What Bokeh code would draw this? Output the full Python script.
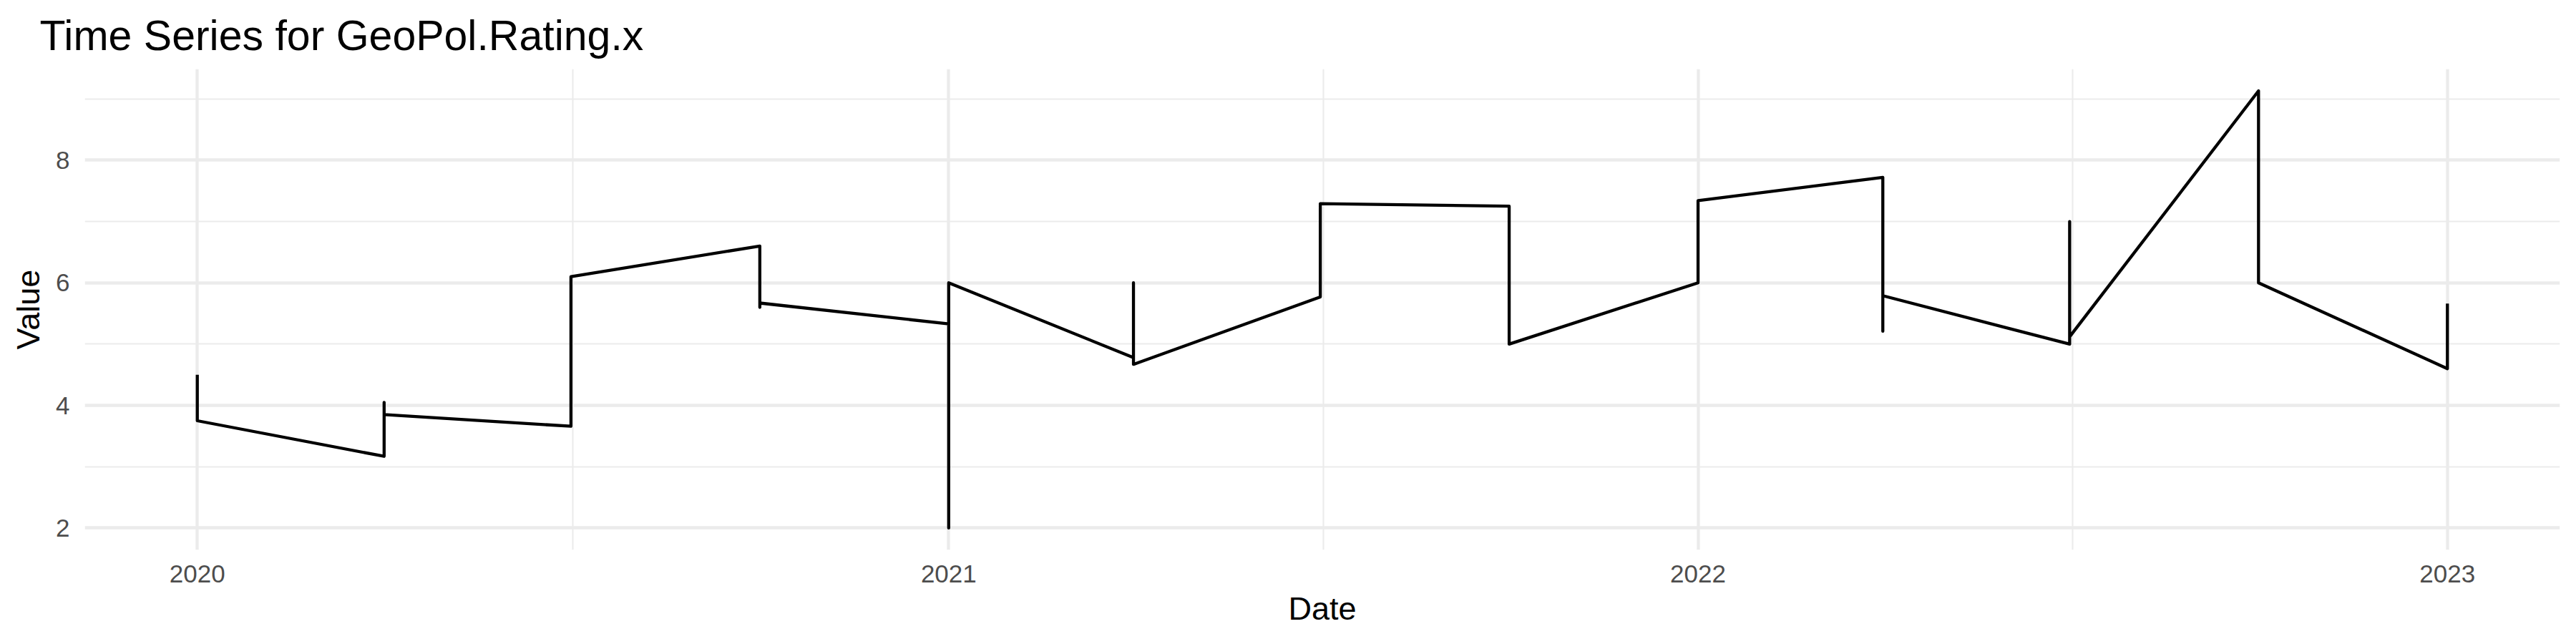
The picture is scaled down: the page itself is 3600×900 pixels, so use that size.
import numpy as np
import pandas as pd
from bokeh.plotting import figure
from bokeh.models import ColumnDataSource, FixedTicker, DatetimeTickFormatter, Range1d
from bokeh.embed import file_html
from bokeh.resources import INLINE

# ---- data ----
dates = ["2020-01-01", "2020-01-01",
         "2020-04-01", "2020-04-01", "2020-04-01",
         "2020-07-01", "2020-07-01",
         "2020-10-01", "2020-10-01", "2020-10-01",
         "2021-01-01", "2021-01-01", "2021-01-01",
         "2021-04-01", "2021-04-01", "2021-04-01",
         "2021-07-01", "2021-07-01",
         "2021-10-01", "2021-10-01",
         "2022-01-01", "2022-01-01",
         "2022-04-01", "2022-04-01", "2022-04-01",
         "2022-07-01", "2022-07-01", "2022-07-01",
         "2022-10-01", "2022-10-01",
         "2023-01-01", "2023-01-01"]
values = [4.5, 3.75,
          3.17, 4.05, 3.85,
          3.66, 6.1,
          6.6, 5.6, 5.67,
          5.33, 2.0, 6.0,
          4.78, 6.0, 4.67,
          5.77, 7.29,
          7.25, 5.0,
          6.0, 7.34,
          7.72, 5.21, 5.79,
          5.0, 7.0, 5.12,
          9.13, 6.0,
          4.6, 5.66]
x_tick_dates = ["2020-01-01", "2021-01-01", "2022-01-01", "2023-01-01"]
y_ticks = [2, 4, 6, 8]
y_minor_ticks = [3, 5, 7, 9]

title_text = "Time Series for GeoPol.Rating.x"
x_label = "Date"
y_label = "Value"

# ---- build ----
dt = pd.to_datetime(dates)
src = ColumnDataSource(dict(date=dt, value=values))

def ms(ts):
    return pd.Timestamp(ts).value / 1e6

xmin, xmax = ms(dt.min()), ms(dt.max())
xpad = 0.05 * (xmax - xmin)
ymin, ymax = min(values), max(values)
ypad = 0.05 * (ymax - ymin)

major_x = [ms(d) for d in x_tick_dates]
minor_x = [(a + b) / 2 for a, b in zip(major_x[:-1], major_x[1:])]

FONT = "Liberation Sans"
GRID = "#EBEBEB"

p = figure(width=3584, height=892, x_axis_type="datetime",
           output_backend="svg", toolbar_location=None,
           x_range=Range1d(xmin - xpad, xmax + xpad),
           y_range=Range1d(ymin - ypad, ymax + ypad),
           min_border_left=118, min_border_right=7,
           min_border_top=95, min_border_bottom=124)

p.line("date", "value", source=src, line_color="black", line_width=4.3,
       line_join="round")

p.title.text = title_text
p.title.align = "left"
p.title.text_font = FONT
p.title.text_font_size = "59px"
p.title.text_font_style = "normal"
p.title.text_color = "black"
p.title.standoff = 28
p.title.offset = -63

p.outline_line_color = None
p.background_fill_color = "white"
p.border_fill_color = "white"

p.xaxis.ticker = FixedTicker(ticks=major_x, minor_ticks=minor_x)
p.xaxis.formatter = DatetimeTickFormatter(years="%Y", months="%Y", days="%Y",
                                          hours="%Y", hourmin="%Y", minutes="%Y",
                                          minsec="%Y", seconds="%Y", milliseconds="%Y")
p.yaxis.ticker = FixedTicker(ticks=y_ticks, minor_ticks=y_minor_ticks)

for ax in (p.xaxis[0], p.yaxis[0]):
    ax.axis_line_color = None
    ax.major_tick_line_color = None
    ax.minor_tick_line_color = None
    ax.major_tick_out = 0
    ax.minor_tick_out = 0
    ax.major_label_text_font = FONT
    ax.major_label_text_font_size = "35px"
    ax.major_label_text_color = "#4D4D4D"
    ax.axis_label_text_font = FONT
    ax.axis_label_text_font_size = "45px"
    ax.axis_label_text_font_style = "normal"
    ax.axis_label_text_color = "black"

p.xaxis.axis_label = x_label
p.yaxis.axis_label = y_label
p.xaxis.major_label_standoff = 21
p.xaxis.axis_label_standoff = 8
p.yaxis.major_label_standoff = 21
p.yaxis.axis_label_standoff = 10

for g in (p.xgrid[0], p.ygrid[0]):
    g.grid_line_color = GRID
    g.grid_line_width = 4.3
    g.minor_grid_line_color = GRID
    g.minor_grid_line_width = 2.1

open("out.html", "w").write(file_html(p, INLINE))
